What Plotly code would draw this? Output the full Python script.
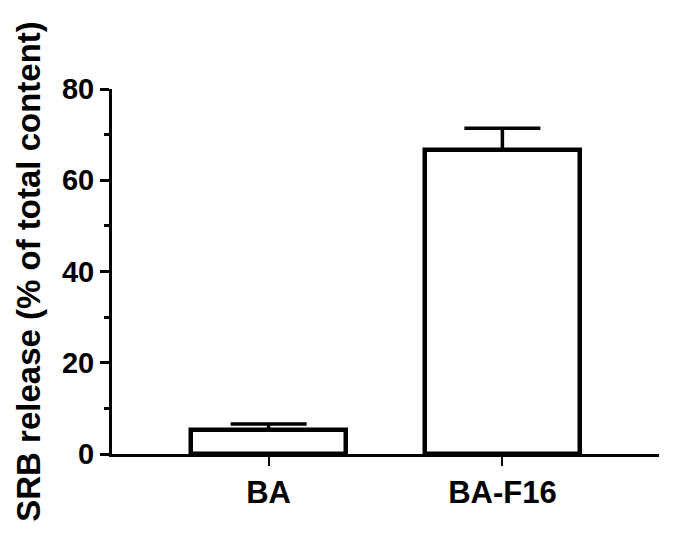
import plotly.graph_objects as go

# SRB release per formulation, mean and upper SD
categories = ["BA", "BA-F16"]
release = [5.3, 66.7]
release_sd = [1.3, 4.7]

FONT = "Liberation Sans, Arial, sans-serif"

fig = go.Figure(
    go.Bar(
        x=categories,
        y=release,
        width=0.66,
        marker=dict(color="white", line=dict(color="black", width=4.5)),
        error_y=dict(
            type="data",
            symmetric=False,
            array=release_sd,
            arrayminus=[0, 0],
            color="black",
            thickness=3.5,
            width=38,
        ),
    )
)

fig.update_layout(
    width=676,
    height=544,
    margin=dict(l=112, r=17, t=89, b=90),
    plot_bgcolor="white",
    paper_bgcolor="white",
    font=dict(family=FONT, color="black", size=30),
    showlegend=False,
    bargap=0,
)

fig.update_xaxes(
    range=[-0.67, 1.67],
    automargin=False,
    showline=True,
    linecolor="black",
    linewidth=3,
    ticks="outside",
    ticklen=9,
    tickwidth=2,
    tickcolor="black",
    tickfont=dict(family=FONT, size=31, weight="bold"),
    showgrid=False,
    zeroline=False,
)

fig.update_yaxes(
    range=[0, 80],
    automargin=False,
    tickvals=[0, 20, 40, 60, 80],
    showline=True,
    linecolor="black",
    linewidth=3,
    ticks="outside",
    ticklen=9,
    tickwidth=3,
    tickcolor="black",
    minor=dict(tickvals=[10, 30, 50, 70], ticks="outside", ticklen=5, tickwidth=3, tickcolor="black"),
    tickfont=dict(family=FONT, size=29, weight="bold"),
    title=dict(text="SRB release (% of total content)", font=dict(family=FONT, size=33, weight="bold"), standoff=12),
    showgrid=False,
    zeroline=False,
)

# drop the default 8px page margin so the figure sits at the window origin
fig.write_html(
    "out.html",
    config={"displayModeBar": False},
    post_script="document.body.style.margin='0';",
)
